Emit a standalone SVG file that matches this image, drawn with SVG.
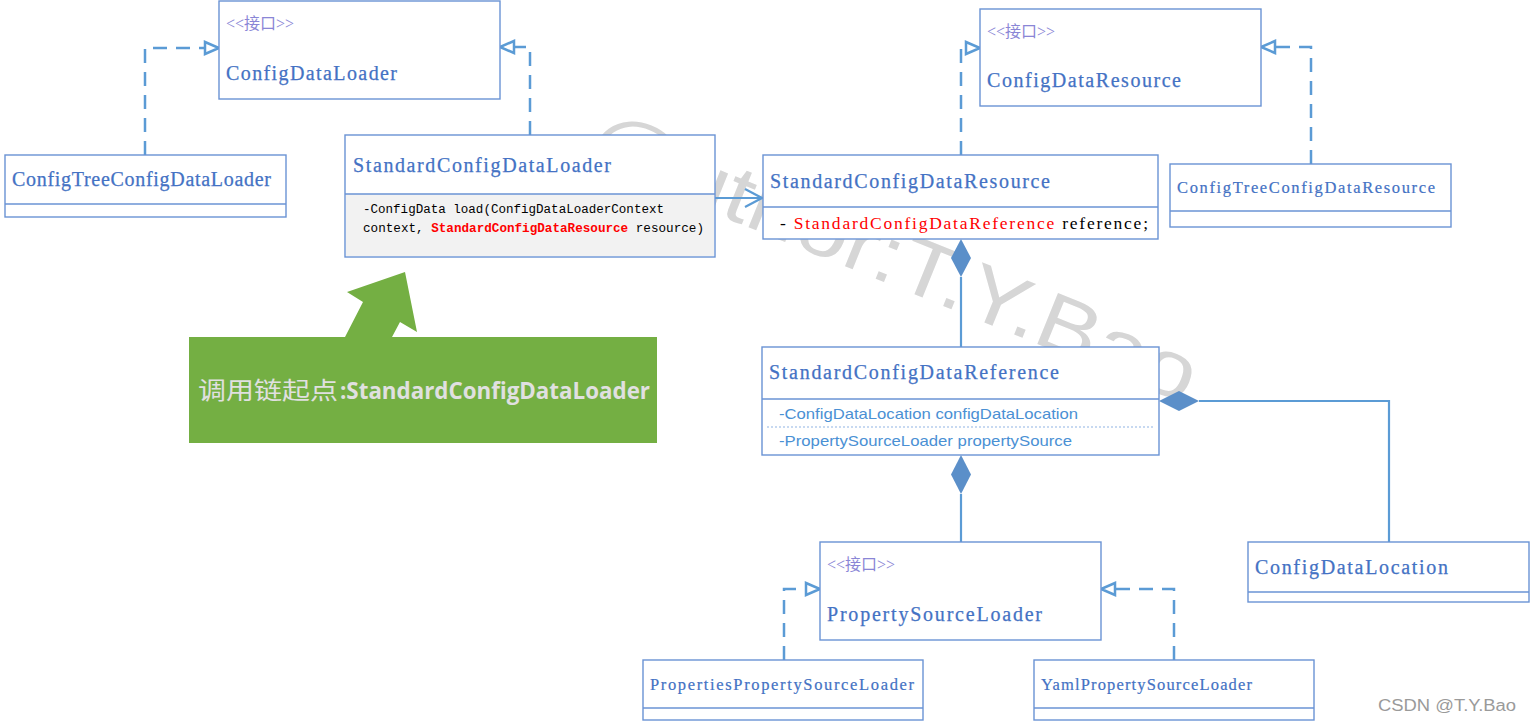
<svg xmlns="http://www.w3.org/2000/svg" width="1531" height="722" viewBox="0 0 1531 722">
<style>
.box{fill:#ffffff;stroke:#6a93d4;stroke-width:1.4}
.div{stroke:#6a93d4;stroke-width:1.4;fill:none}
.title{font-family:"Liberation Serif",serif;font-size:20px;fill:#4472c4;stroke:#4472c4;stroke-width:0.25}
.small{font-family:"Liberation Serif",serif;font-size:16.5px;fill:#4472c4;stroke:#4472c4;stroke-width:0.2}
.iface{font-family:"Liberation Serif","Noto Sans CJK SC",serif;font-size:16px;fill:#8a86d6}
.code{font-family:"Liberation Mono",monospace;font-size:12.5px;fill:#000000}
.attr{font-family:"Liberation Sans","Noto Sans",sans-serif;font-size:15px;fill:#4a90d4}
.dash{fill:none;stroke:#5b9bd5;stroke-width:2.5;stroke-dasharray:14,9}
.solid{fill:none;stroke:#5b9bd5;stroke-width:2.2}
.tri{fill:#ffffff;stroke:#5b9bd5;stroke-width:2.5}
.dia{fill:#5b8fc9;stroke:none}
</style>
<rect width="1531" height="722" fill="#ffffff"/>

<text x="582" y="160" transform="rotate(22 582 160)" font-family="Liberation Sans,sans-serif" font-size="80" fill="#d6d6d6" textLength="650" lengthAdjust="spacingAndGlyphs">@uthor:T.Y.Bao</text>

<g id="connectors">
  <path class="dash" d="M145,155 V48 H205"/>
  <polygon class="tri" points="205,42 219,48 205,54"/>
  <path class="dash" d="M530,135 V47 H514"/>
  <polygon class="tri" points="514,41 500,47 514,53"/>
  <path class="solid" d="M715,198 H761"/>
  <path class="solid" d="M745,189 L762,198 L745,207"/>
  <path class="dash" d="M961,155 V48 H966"/>
  <polygon class="tri" points="966,42 980,48 966,54"/>
  <path class="dash" d="M1311,164 V47 H1275"/>
  <polygon class="tri" points="1275,41 1261,47 1275,53"/>
  <path class="solid" d="M961,277 V347"/>
  <polygon class="dia" points="961,239 971,258 961,277 951,258"/>
  <path class="solid" d="M1199,401 H1389 V542"/>
  <polygon class="dia" points="1159,401 1179,391 1199,401 1179,411"/>
  <path class="solid" d="M961,494 V542"/>
  <polygon class="dia" points="961,455 971,474.5 961,494 951,474.5"/>
  <path class="dash" d="M784,660 V589 H806"/>
  <polygon class="tri" points="806,583 820,589 806,595"/>
  <path class="dash" d="M1174,660 V589 H1115"/>
  <polygon class="tri" points="1115,583 1101,589 1115,595"/>
</g>

<g id="ConfigDataLoader">
  <rect class="box" x="219" y="1" width="281" height="98"/>
  <text class="iface" x="226" y="29">&lt;&lt;接口&gt;&gt;</text>
  <text class="title" x="226" y="80" textLength="171" lengthAdjust="spacing">ConfigDataLoader</text>
</g>

<g id="ConfigTreeConfigDataLoader">
  <rect class="box" x="5" y="155" width="281" height="62"/>
  <line class="div" x1="5" y1="204" x2="286" y2="204"/>
  <text class="title" x="12" y="186" font-size="18.5" textLength="259" lengthAdjust="spacing">ConfigTreeConfigDataLoader</text>
</g>

<g id="StandardConfigDataLoader">
  <rect class="box" x="345" y="135" width="370" height="122"/>
  <rect x="346" y="194" width="368" height="62" fill="#f2f2f2"/>
  <line class="div" x1="345" y1="194" x2="715" y2="194"/>
  <text class="title" x="353" y="172" textLength="258" lengthAdjust="spacing">StandardConfigDataLoader</text>
  <text class="code" x="363" y="213" textLength="301" lengthAdjust="spacingAndGlyphs">-ConfigData load(ConfigDataLoaderContext</text>
  <text class="code" x="363" y="232" textLength="341" lengthAdjust="spacingAndGlyphs">context, <tspan fill="#ff0000" font-weight="bold">StandardConfigDataResource</tspan> resource)</text>
</g>

<g id="ConfigDataResource">
  <rect class="box" x="980" y="9" width="281" height="97"/>
  <text class="iface" x="987" y="37">&lt;&lt;接口&gt;&gt;</text>
  <text class="title" x="987" y="87" textLength="194" lengthAdjust="spacing">ConfigDataResource</text>
</g>

<g id="StandardConfigDataResource">
  <rect class="box" x="763" y="155" width="395" height="84"/>
  <line class="div" x1="763" y1="207" x2="1158" y2="207"/>
  <text class="title" x="770" y="188" textLength="280" lengthAdjust="spacing">StandardConfigDataResource</text>
  <text x="780" y="229" font-family="Liberation Serif,serif" font-size="17.5" textLength="368" lengthAdjust="spacing"><tspan fill="#000000">- </tspan><tspan fill="#ff0000">StandardConfigDataReference</tspan><tspan fill="#000000"> reference;</tspan></text>
</g>

<g id="ConfigTreeConfigDataResource">
  <rect class="box" x="1170" y="164" width="281" height="63"/>
  <line class="div" x1="1170" y1="211" x2="1451" y2="211"/>
  <text class="small" x="1177" y="193" textLength="258" lengthAdjust="spacing">ConfigTreeConfigDataResource</text>
</g>

<g id="StandardConfigDataReference">
  <rect class="box" x="762" y="347" width="397" height="108"/>
  <line class="div" x1="762" y1="399" x2="1159" y2="399"/>
  <line x1="767" y1="427" x2="1155" y2="427" stroke="#8fb4e3" stroke-width="1.2" stroke-dasharray="2,2"/>
  <text class="title" x="769" y="379" textLength="290" lengthAdjust="spacing">StandardConfigDataReference</text>
  <text class="attr" x="779" y="419" textLength="299" lengthAdjust="spacingAndGlyphs">-ConfigDataLocation configDataLocation</text>
  <text class="attr" x="779" y="446" textLength="293" lengthAdjust="spacingAndGlyphs">-PropertySourceLoader propertySource</text>
</g>

<g id="ConfigDataLocation">
  <rect class="box" x="1248" y="542" width="281" height="60"/>
  <line class="div" x1="1248" y1="592" x2="1529" y2="592"/>
  <text class="title" x="1255" y="574" textLength="193" lengthAdjust="spacing">ConfigDataLocation</text>
</g>

<g id="PropertySourceLoader">
  <rect class="box" x="820" y="542" width="281" height="98"/>
  <text class="iface" x="827" y="570">&lt;&lt;接口&gt;&gt;</text>
  <text class="title" x="827" y="621" textLength="215" lengthAdjust="spacing">PropertySourceLoader</text>
</g>

<g id="PropertiesPropertySourceLoader">
  <rect class="box" x="643" y="660" width="280" height="60"/>
  <line class="div" x1="643" y1="708" x2="923" y2="708"/>
  <text class="small" x="650" y="690" textLength="264" lengthAdjust="spacing">PropertiesPropertySourceLoader</text>
</g>

<g id="YamlPropertySourceLoader">
  <rect class="box" x="1034" y="660" width="280" height="60"/>
  <line class="div" x1="1034" y1="708" x2="1314" y2="708"/>
  <text class="small" x="1041" y="690" textLength="211" lengthAdjust="spacing">YamlPropertySourceLoader</text>
</g>

<g id="callout">
  <polygon points="345,337 363,302 347,292 405,272 417,332 400,322 392,337" fill="#74af43"/>
  <rect x="189" y="337" width="468" height="106" fill="#74af43"/>
  <text x="198" y="399" font-family="Noto Sans CJK SC,sans-serif" font-size="24" fill="#e0e0e0" textLength="140" lengthAdjust="spacingAndGlyphs">调用链起点</text>
  <text x="340" y="399" font-family="Open Sans,Noto Sans,sans-serif" font-weight="bold" font-size="23" fill="#e0e0e0" textLength="310" lengthAdjust="spacingAndGlyphs">:StandardConfigDataLoader</text>
</g>

<text x="1378" y="711" font-family="Liberation Sans,sans-serif" font-size="16" fill="#9a9a9a" textLength="138" lengthAdjust="spacingAndGlyphs">CSDN @T.Y.Bao</text>
</svg>
